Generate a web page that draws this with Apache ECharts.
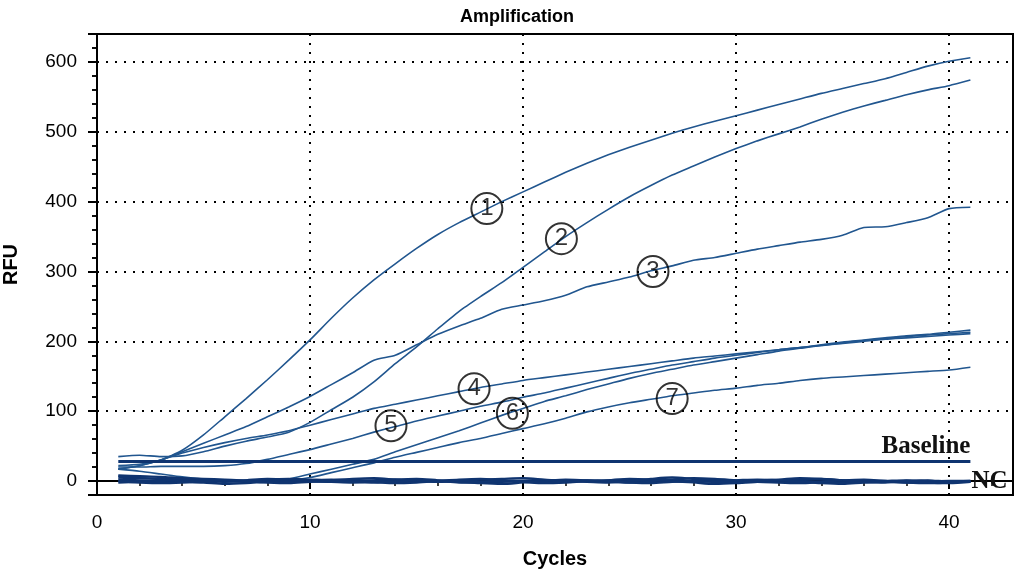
<!DOCTYPE html>
<html>
<head>
<meta charset="utf-8">
<script src="https://cdn.jsdelivr.net/npm/echarts@6/dist/echarts.min.js"></script>
<style>
html,body{margin:0;padding:0;background:#fff;}
#main{width:1021px;height:580px;}
</style>
</head>
<body>
<div id="main"></div>
<script>
// cycles 1..41
var cycles = [];
for (var i = 1; i <= 41; i++) cycles.push(i);

// RFU, one value per cycle
var s1 = [22,24,30,44,66,92,118,145,173,202,233,262,288,311,333,353,370,385,400,414,428,442,455,467,478,488,498,507,515,523,531,539,547,555,562,569,576,585,594,601,606];
var s2 = [35,37,35,36,42,50,57,63,70,84,102,120,142,168,192,218,243,264,284,306,328,350,370,389,407,423,438,451,464,476,487,497,507,518,528,537,545,553,560,566,574];
var s3 = [17,22,30,42,54,66,78,92,106,121,138,155,173,180,195,210,222,233,246,252,258,266,278,285,292,301,308,316,320,326,332,337,342,346,352,363,364,370,377,390,392];
var s4 = [17,22,30,40,48,55,61,66,72,80,88,96,104,110,116,122,128,134,139,144,148,152,156,160,164,168,172,176,179,182,185,188,191,195,199,202,205,208,210,213,216];
var s5 = [20,20,21,21,21,22,25,31,38,45,53,61,70,78,86,93,100,107,113,120,126,133,140,147,154,160,166,171,176,180,184,188,191,194,198,201,204,207,209,211,213];
var s6 = [17,14,10,6,3,1,0,0,3,10,17,24,31,42,52,62,72,83,94,104,114,122,131,139,147,154,160,166,171,176,181,186,190,194,197,200,203,205,207,209,211];
var s7 = [7,5,3,2,1,0,0,0,1,5,12,19,26,34,41,48,55,61,68,75,82,90,99,106,112,117,122,126,130,133,137,140,144,147,149,151,153,155,157,159,163];

// negative controls, all near zero
var nc1 = [5,4,3,2,1,0,-1,0,1,0,-1,0,1,2,1,0,-1,-2,-1,0,1,0,0,1,2,1,0,-1,0,1,2,1,0,-1,-2,-1,0,1,0,-1,0];
var nc2 = [2,1,0,-1,-2,-4,-3,-1,0,1,2,1,-1,-3,-2,0,2,3,1,-1,-3,-2,0,1,3,2,0,-2,-4,-3,-1,1,2,3,1,0,-1,-2,-1,0,0];
var nc3 = [-2,-1,0,2,1,-1,1,3,2,0,-1,-2,0,2,3,1,-1,-3,-4,-2,0,2,1,-1,-2,0,2,4,3,1,-1,-2,-3,-1,1,2,0,-2,-3,-2,-1];
var nc4 = [8,7,6,4,3,2,1,2,3,2,1,3,4,2,0,-1,0,2,3,4,2,0,-1,-2,0,3,5,3,1,0,1,2,4,3,1,-1,-2,0,1,-1,-1];
var nc5 = [0,-2,-3,-2,0,1,0,-2,-3,-1,0,-1,-2,-1,1,0,-2,-1,0,-1,-2,-1,1,0,-2,-3,-1,0,-1,-2,0,1,-1,-3,-4,-2,-1,0,-2,-3,-1];
var baseline = 28;

// circled sample numbers
var annoText = ['1','2','3','4','5','6','7'];
var annoX = [18.3, 21.8, 26.1, 17.7, 13.8, 19.5, 27.0];
var annoY = [390, 347, 300, 132, 79, 97, 118];

var curveColor = '#21568f';
var darkColor = '#0f3470';
var refFont = {fontFamily:'Liberation Serif', fontWeight:'bold', fontSize:25, color:'#111'};

function pairs(arr){
  var out = [];
  for (var i = 0; i < arr.length; i++) out.push([cycles[i], arr[i]]);
  return out;
}

var series = [];
[s1,s2,s3,s4,s5,s6,s7].forEach(function(d){
  series.push({type:'line', data:pairs(d), showSymbol:false, smooth:0.2,
    lineStyle:{color:curveColor, width:1.6}, itemStyle:{color:curveColor}, silent:true, z:3});
});
[nc1,nc2,nc3,nc4,nc5].forEach(function(d, k){
  var data = pairs(d);
  if (k == 4) {
    // NC tag sits just right of the last point
    data[data.length-1] = {value:data[data.length-1],
      label:Object.assign({show:true, position:'right', distance:1, formatter:'NC'}, refFont)};
  }
  series.push({type:'line', data:data, showSymbol:true, symbol:'circle', symbolSize:0.1, smooth:0.3,
    label:{show:false},
    lineStyle:{color:darkColor, width:2.4}, itemStyle:{color:darkColor}, silent:true, z:4});
});
series.push({type:'line', showSymbol:true, symbol:'circle', symbolSize:0.1, silent:true, z:4,
  label:{show:false},
  data:[[cycles[0], baseline], {value:[cycles[cycles.length-1], baseline],
    label:Object.assign({show:true, position:'top', align:'right', distance:2, formatter:'Baseline'}, refFont)}],
  lineStyle:{color:darkColor, width:3}, itemStyle:{color:darkColor}});
var annoData = [];
for (var j = 0; j < annoText.length; j++) annoData.push({value:[annoX[j], annoY[j]], name:annoText[j]});
series.push({type:'scatter', data:annoData, symbol:'circle', symbolSize:31, silent:true, z:6,
  itemStyle:{color:'rgba(255,255,255,0)', borderColor:'#000', borderWidth:2},
  label:{show:true, position:'inside', formatter:'{b}', color:'#000', fontSize:24,
    fontFamily:'Liberation Sans'}});

var xMin = 0, xMax = 43, yMin = -20, yMax = 640;
var axisFont = {fontFamily:'Liberation Sans', fontSize:19, color:'#000'};
var nameFont = {fontFamily:'Liberation Sans', fontWeight:'bold', fontSize:20, color:'#000'};
var gridDots = {show:true, lineStyle:{color:'#000', width:2, type:[2,7]}};

var option = {
  animation:false,
  backgroundColor:'#fff',
  title:{text:'Amplification', left:455, top:3,
    textStyle:{fontFamily:'Liberation Sans', fontWeight:'bold', fontSize:18, color:'#000'}},
  grid:{left:97, right:8, top:34, bottom:85, show:true, borderColor:'#000', borderWidth:2,
    containLabel:false, outerBoundsMode:'none'},
  xAxis:[
    {type:'value', min:xMin, max:xMax, interval:10, position:'bottom',
     name:'Cycles', nameLocation:'middle', nameGap:54, nameTextStyle:nameFont,
     axisLine:{show:true, lineStyle:{color:'#000', width:2}},
     axisTick:{show:true, length:8, lineStyle:{color:'#000', width:2}},
     axisLabel:Object.assign({margin:18, formatter:function(v){return v % 10 === 0 ? v : '';}}, axisFont),
     splitLine:gridDots},
    {type:'value', min:xMin, max:xMax, interval:2, position:'bottom',
     axisLine:{show:false}, axisTick:{show:true, length:5, lineStyle:{color:'#000', width:1.5}},
     axisLabel:{show:false}, splitLine:{show:false}},
    {type:'value', min:xMin, max:xMax, interval:2, position:'top',
     axisLine:{show:false}, axisTick:{show:true, inside:true, length:5, lineStyle:{color:'#000', width:1.5}},
     axisLabel:{show:false}, splitLine:{show:false}}
  ],
  yAxis:[
    {type:'value', min:yMin, max:yMax, interval:20, position:'left',
     name:'RFU', nameLocation:'middle', nameGap:76, nameRotate:90, nameTextStyle:nameFont,
     axisLine:{show:true, lineStyle:{color:'#000', width:2}},
     axisTick:{show:true, length:5, lineStyle:{color:'#000', width:1.5}},
     axisLabel:Object.assign({margin:20, formatter:function(v){return v % 100 === 0 ? v : '';}}, axisFont),
     splitLine:{show:false}},
    {type:'value', min:yMin, max:yMax, position:'left', splitNumber:6,
     axisLine:{show:false}, axisTick:{show:true, length:9, lineStyle:{color:'#000', width:2}},
     axisLabel:{show:false}, splitLine:gridDots},
    {type:'value', min:yMin, max:yMax, interval:20, position:'right',
     axisLine:{show:false}, axisTick:{show:true, inside:true, length:5, lineStyle:{color:'#000', width:1.5}},
     axisLabel:{show:false}, splitLine:{show:false}}
  ],
  series:series
};

var myChart = echarts.init(document.getElementById('main'));
myChart.setOption(option);
</script>
</body>
</html>
